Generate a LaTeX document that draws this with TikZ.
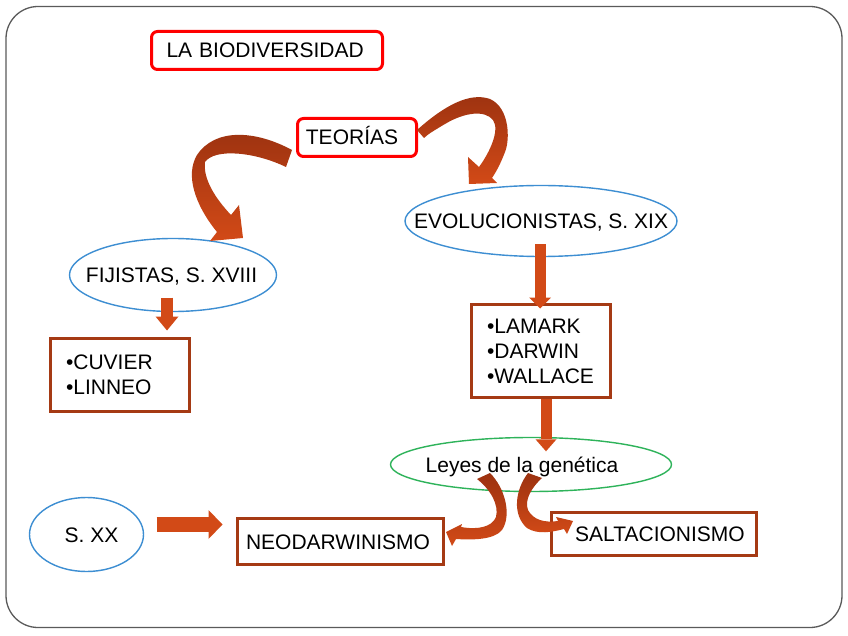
\documentclass[tikz,border=0pt]{standalone}
\usepackage{fontspec}
\setmainfont{Liberation Sans}
\usetikzlibrary{shapes.geometric,arrows.meta,calc}
\definecolor{redb}{HTML}{FF0000}
\definecolor{brownb}{HTML}{A53A14}
\definecolor{arrowc}{HTML}{D24A17}
\definecolor{arrdark}{HTML}{9C3210}
\definecolor{blueb}{HTML}{3D8ED2}
\definecolor{greenb}{HTML}{2EB35A}
\definecolor{framec}{HTML}{5A5A5A}
\begin{document}
\begin{tikzpicture}[x=1pt,y=-1pt,
  txt/.style={font=\fontsize{21}{25}\selectfont, text=black},
  redbox/.style={txt, draw=redb, line width=3pt, rounded corners=6pt, text height=15pt, text depth=0pt, inner sep=0pt},
  brbox/.style={txt, draw=brownb, line width=3pt, inner sep=0pt},
  brline/.style={brbox, text height=15pt, text depth=0pt},
  oval/.style={txt, ellipse, draw=blueb, line width=1.4pt, inner sep=0pt, text height=15pt, text depth=0pt},
  blk/.style n args={3}{draw=arrowc, line width=#1, -{Triangle[width=#2,length=#3,line width=0pt]}},
  curvearrow/.style={top color=arrdark, middle color=arrowc!65!arrdark, bottom color=arrowc}
]
\useasboundingbox (0,0) rectangle (848,636);
\fill[white] (0,0) rectangle (848,636);
\draw[framec, line width=1.3pt, rounded corners=32pt] (6,6.5) rectangle (842,627.5);

% nodes
\node[redbox, text width=201pt, inner xsep=15pt, minimum height=38pt, align=left] (bio) at (267,50.5) {LA BIODIVERSIDAD};
\node[redbox, minimum width=119pt, minimum height=38pt] (teo) at (357,137.5) {TEORÍAS\hspace*{10pt}};
\node[oval, minimum width=272pt, minimum height=71pt] (evo) at (541,221) {\makebox[0pt]{EVOLUCIONISTAS, S. XIX}};
\node[oval, minimum width=207pt, minimum height=73pt] (fij) at (173,275) {\makebox[0pt]{FIJISTAS, S. XVIII\hspace*{3pt}}};
\node[brbox, text width=108pt, inner xsep=15.5pt, minimum height=73pt, align=left] (cuv) at (120,375) {•CUVIER\\•LINNEO};
\node[brbox, text width=108pt, inner xsep=15.5pt, minimum height=93pt, align=left] (lam) at (541,351) {•LAMARK\\•DARWIN\\•WALLACE};
\node[oval, draw=greenb, minimum width=281pt, minimum height=54pt] (ley) at (531,464.5) {\makebox[0pt]{Leyes de la genética\hspace*{18pt}}};
\node[oval, minimum width=114pt, minimum height=74pt] (sxx) at (86.5,534.5) {\makebox[0pt]{\hspace*{10pt}S. XX}};
\node[brline, minimum width=206pt, minimum height=46pt] (neo) at (340.5,541.5) {NEODARWINISMO\hspace*{5pt}};
\node[brline, minimum width=205pt, minimum height=43pt] (sal) at (654,534) {\hspace*{12pt}SALTACIONISMO};

% straight block arrows
\draw[blk={12pt}{23pt}{14pt}] ($(fij.south)+(-6,-14.5)$) -- ($(cuv.north)+(47,-6.5)$);
\draw[blk={11pt}{22pt}{11pt}] ($(evo.south)+(-1,-13)$) -- ($(lam.north)+(-1,5.5)$);
\draw[blk={11pt}{21pt}{12pt}] ($(lam.south)+(5,0)$) -- ($(ley.north)+(15,14.5)$);
\draw[blk={15pt}{29pt}{14pt}] ($(sxx.east)+(12.5,-10)$) -- ($(neo.west)+(-13.5,-17)$);

% curved block arrows
\shade[curvearrow] (292,150) .. controls (255,130) and (215,128) .. (197,155)
  .. controls (185,175) and (195,205) .. (217,232) -- (210,241) -- (243,238) -- (239,205) -- (231,215)
  .. controls (214,197) and (203,178) .. (205,162) .. controls (215,148) and (255,152) .. (286,167) -- cycle;
\shade[curvearrow] (417,130) .. controls (445,105) and (470,92) .. (490,99)
  .. controls (510,108) and (510,140) .. (505,152) .. controls (500,165) and (496,172) .. (492,178)
  -- (497,183) -- (469,184) -- (468,157) -- (479,167)
  .. controls (490,152) and (500,130) .. (493,120) .. controls (485,110) and (465,112) .. (445,124)
  .. controls (435,130) and (428,134) .. (424,138) -- cycle;
\shade[curvearrow] (477,479) -- (490,473) .. controls (505,488) and (512,515) .. (502,530)
  .. controls (494,540) and (472,540) .. (456,539) -- (452,546) -- (446,532) -- (462,524) -- (461,527)
  .. controls (478,530) and (492,527) .. (496,517) .. controls (499,505) and (491,490) .. (477,479) -- cycle;
\shade[curvearrow] (528,473) .. controls (515,490) and (512,515) .. (527,528)
  .. controls (538,535) and (552,532) .. (564,529) -- (567,534) -- (573,521) -- (556,517) -- (558,521)
  .. controls (545,523) and (533,520) .. (528,510) .. controls (524,500) and (532,487) .. (542,478) -- cycle;
\end{tikzpicture}
\end{document}
